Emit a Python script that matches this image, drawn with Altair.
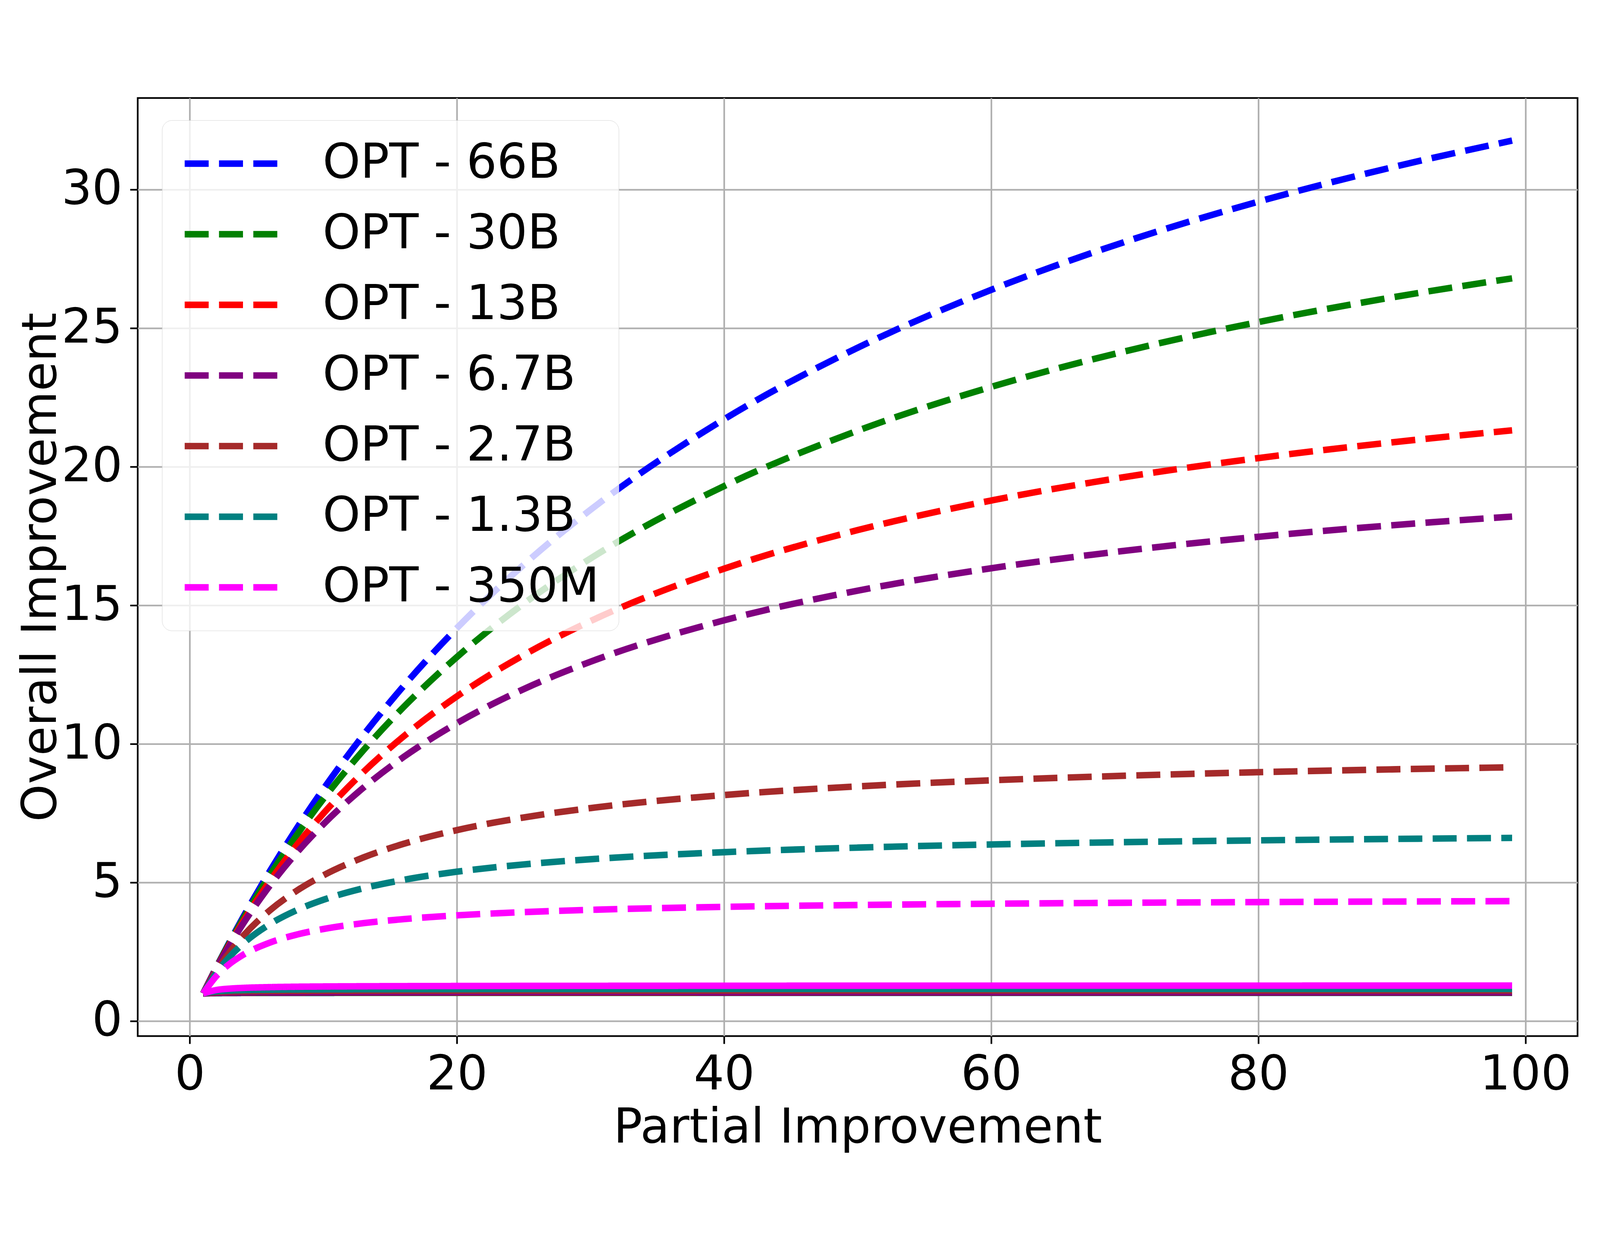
import altair as alt
import pandas as pd

MODELS = ["OPT - 66B", "OPT - 30B", "OPT - 13B", "OPT - 6.7B", "OPT - 2.7B", "OPT - 1.3B", "OPT - 350M"]
COLORS = ["#0000ff", "#008000", "#ff0000", "#800080", "#a52a2a", "#008080", "#ff00ff"]

X_DASHED = [1, 2, 3, 4, 6, 8, 10, 13, 16, 20, 25, 30, 40, 50, 60, 70, 80, 90, 99]
X_SOLID = [1, 2, 3, 4, 6, 8, 10, 15, 20, 30, 50, 70, 99]

DASHED = {
    "OPT - 66B": [1, 1.958, 2.876, 3.757, 5.415, 6.949, 8.372, 10.324, 12.085, 14.180, 16.465, 18.446, 21.711, 24.291, 26.380, 28.108, 29.560, 30.797, 31.763],
    "OPT - 30B": [1, 1.947, 2.844, 3.695, 5.275, 6.709, 8.016, 9.774, 11.327, 13.136, 15.060, 16.690, 19.300, 21.299, 22.879, 24.159, 25.217, 26.106, 26.793],
    "OPT - 13B": [1, 1.928, 2.792, 3.598, 5.059, 6.347, 7.492, 8.988, 10.270, 11.718, 13.208, 14.431, 16.321, 17.713, 18.780, 19.626, 20.311, 20.878, 21.311],
    "OPT - 6.7B": [1, 1.913, 2.751, 3.521, 4.892, 6.074, 7.104, 8.422, 9.527, 10.749, 11.978, 12.966, 14.458, 15.529, 16.337, 16.967, 17.472, 17.887, 18.201],
    "OPT - 2.7B": [1, 1.818, 2.500, 3.076, 3.999, 4.704, 5.261, 5.906, 6.396, 6.892, 7.348, 7.687, 8.157, 8.468, 8.688, 8.853, 8.981, 9.083, 9.158],
    "OPT - 1.3B": [1, 1.750, 2.334, 2.802, 3.503, 4.004, 4.379, 4.795, 5.097, 5.392, 5.653, 5.842, 6.096, 6.260, 6.374, 6.458, 6.522, 6.573, 6.611],
    "OPT - 350M": [1, 1.635, 2.074, 2.396, 2.836, 3.123, 3.325, 3.535, 3.681, 3.818, 3.934, 4.016, 4.123, 4.190, 4.236, 4.270, 4.295, 4.315, 4.330],
}

SOLID = {
    "OPT - 66B": [1, 1.011, 1.015, 1.017, 1.018, 1.019, 1.020, 1.021, 1.021, 1.021, 1.022, 1.022, 1.022],
    "OPT - 30B": [1, 1.014, 1.019, 1.021, 1.024, 1.025, 1.025, 1.026, 1.027, 1.027, 1.028, 1.028, 1.028],
    "OPT - 13B": [1, 1.019, 1.025, 1.029, 1.032, 1.034, 1.035, 1.036, 1.037, 1.037, 1.038, 1.038, 1.038],
    "OPT - 6.7B": [1, 1.023, 1.031, 1.035, 1.039, 1.041, 1.043, 1.044, 1.045, 1.046, 1.047, 1.047, 1.047],
    "OPT - 2.7B": [1, 1.053, 1.072, 1.081, 1.091, 1.096, 1.099, 1.103, 1.105, 1.107, 1.109, 1.110, 1.110],
    "OPT - 1.3B": [1, 1.077, 1.105, 1.120, 1.135, 1.143, 1.147, 1.154, 1.157, 1.160, 1.162, 1.164, 1.164],
    "OPT - 350M": [1, 1.126, 1.175, 1.201, 1.228, 1.243, 1.251, 1.263, 1.269, 1.275, 1.280, 1.282, 1.283],
}

X_TICKS = [0, 20, 40, 60, 80, 100]
Y_TICKS = [0, 5, 10, 15, 20, 25, 30]

rows = []
for m in MODELS:
    for x, y in zip(X_DASHED, DASHED[m]):
        rows.append({"series": m, "style": "dashed", "x": x, "y": y})
    for x, y in zip(X_SOLID, SOLID[m]):
        rows.append({"series": m, "style": "solid", "x": x, "y": y})
df = pd.DataFrame(rows)

FONT = "DejaVu Sans"
FS = 144

axis_common = dict(
    labelFont=FONT, labelFontSize=FS, labelColor="black", labelLimit=3000,
    titleFont=FONT, titleFontSize=FS, titleFontWeight="normal", titleColor="black",
    titleLimit=5000,
    tickColor="black", tickSize=23, tickWidth=5, labelPadding=23,
    domain=False, grid=True, gridColor="#b0b0b0", gridWidth=5,
    labelFlush=False, labelOverlap=False,
)

chart = alt.Chart(df).mark_line(
    strokeWidth=19.5, strokeCap="butt", strokeJoin="round", interpolate="monotone"
).encode(
    x=alt.X("x:Q",
            scale=alt.Scale(domain=[-3.9, 103.9], nice=False, zero=False),
            axis=alt.Axis(values=X_TICKS, title="Partial Improvement", titlePadding=16, **axis_common)),
    y=alt.Y("y:Q",
            scale=alt.Scale(domain=[-0.538, 33.30], nice=False, zero=False),
            axis=alt.Axis(values=Y_TICKS, title="Overall Improvement", titlePadding=16, **axis_common)),
    color=alt.Color("series:N",
                    scale=alt.Scale(domain=MODELS, range=COLORS),
                    legend=alt.Legend(
                        title=None, orient="none", legendX=73, legendY=67,
                        symbolType="stroke", symbolSize=278 * 278, symbolStrokeWidth=19.5,
                        symbolDash=[72, 31], symbolOpacity=1,
                        labelFont=FONT, labelFontSize=FS, labelColor="black",
                        labelOffset=126, labelLimit=3000, clipHeight=144, rowPadding=68,
                        padding=58, fillColor="rgba(255,255,255,0.8)", strokeColor="#cccccc",
                        cornerRadius=30, zindex=1,
                    )),
    strokeDash=alt.StrokeDash("style:N",
                              scale=alt.Scale(domain=["dashed", "solid"], range=[[72, 31], [1, 0]]),
                              legend=None),
).properties(
    width=4784, height=3184,
    padding={"left": 43, "top": 10, "right": 58, "bottom": 10},
    autosize=alt.AutoSizeParams(type="fit", contains="padding"),
    background="white",
).configure_view(stroke="black", strokeWidth=5, fill="white")

chart.save("out.html", embed_options={"renderer": "svg", "actions": False})
